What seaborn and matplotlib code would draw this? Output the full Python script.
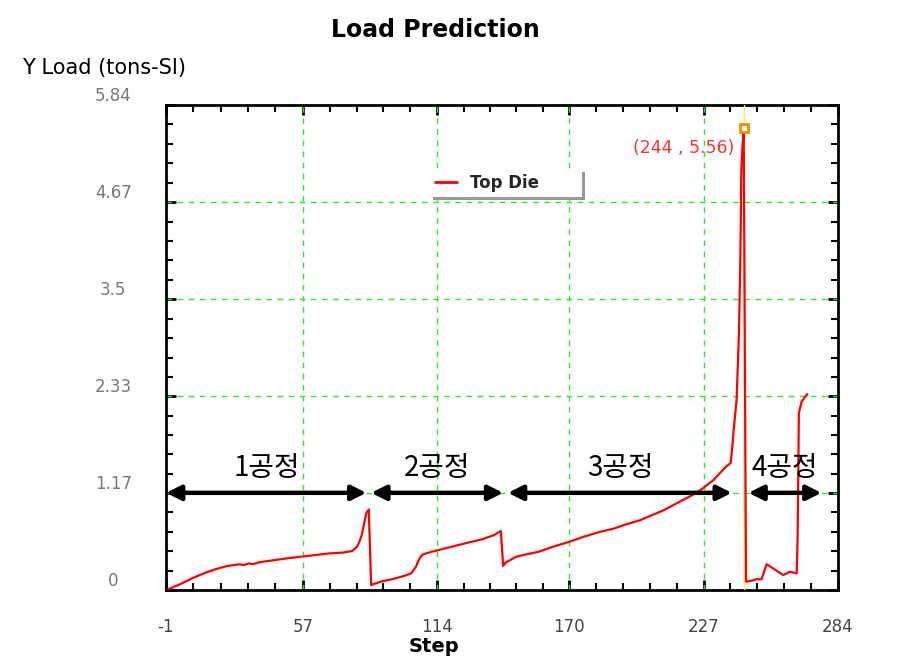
import numpy as np
import pandas as pd
import matplotlib
matplotlib.use("Agg")
import matplotlib.pyplot as plt
import seaborn as sns

# ---------------- data ----------------
step = [0, 5, 10, 15, 20, 25, 28, 30, 32, 34, 36, 38, 40, 45, 50, 56, 62, 68, 74, 78, 80, 81, 82, 83, 84, 85,
        86, 90, 95, 100, 103, 105, 106, 107, 108, 113, 120, 127, 133, 138, 141,
        142, 143, 147.5, 152, 157, 163, 170, 176, 183, 189, 194, 200, 205, 210, 214, 218, 222, 226, 231, 234,
        236.7, 238.5, 239.2, 240, 241, 242, 242.6, 243, 243.5, 244,
        245, 247, 249.5, 251.6, 253.7, 256.5, 260.8, 263.6, 266.5, 266.9, 267.4, 268.6, 271]
load = [0.01, 0.07, 0.14, 0.20, 0.25, 0.29, 0.30, 0.31, 0.30, 0.32, 0.31, 0.33, 0.34, 0.36, 0.38, 0.40, 0.42, 0.44, 0.45, 0.47, 0.52, 0.58, 0.66, 0.80, 0.93, 0.97,
        0.06, 0.10, 0.13, 0.17, 0.20, 0.28, 0.35, 0.40, 0.43, 0.47, 0.52, 0.57, 0.61, 0.66, 0.71,
        0.29, 0.33, 0.40, 0.43, 0.46, 0.52, 0.58, 0.64, 0.70, 0.74, 0.79, 0.84, 0.90, 0.96, 1.02, 1.08, 1.14, 1.21, 1.32, 1.41,
        1.49, 1.53, 1.73, 2.00, 2.29, 3.10, 4.03, 5.06, 5.33, 5.56,
        0.10, 0.11, 0.13, 0.13, 0.31, 0.26, 0.18, 0.22, 0.20, 0.68, 2.13, 2.27, 2.36]

x_ticks = [-1, 57, 114, 170, 227, 284]
y_ticks = [0, 1.17, 2.33, 3.5, 4.67, 5.84]
y_tick_labels = ["0", "1.17", "2.33", "3.5", "4.67", "5.84"]

process_labels = ["1공정", "2공정", "3공정", "4공정"]
process_start = [-1, 86, 144, 246]
process_end = [84, 142, 239, 277]
process_level = 1.17

peak_step = 244
peak_load = 5.56
series_name = "Top Die"

df = pd.DataFrame({"Step": step, "Load": load, "series": series_name})

# ---------------- figure ----------------
sns.set_theme(style="white")
plt.rcParams["font.family"] = ["DejaVu Sans", "Noto Sans CJK KR"]

fig = plt.figure(figsize=(9.01, 6.66), dpi=100)
ax = fig.add_axes([166 / 901, 1 - 590 / 666, 672 / 901, 485 / 666])

sns.lineplot(data=df, x="Step", y="Load", hue="series", palette=["#ff0000"],
             estimator=None, sort=False, linewidth=1.6, ax=ax, zorder=4)

ax.set_xlim(x_ticks[0], x_ticks[-1])
ax.set_ylim(y_ticks[0], y_ticks[-1])

# grid
for xv in x_ticks[1:-1]:
    ax.axvline(xv, color="#22ee22", lw=1.0, ls=(0, (4, 4)), zorder=1)
for yv in y_ticks[1:-1]:
    ax.axhline(yv, color="#22ee22", lw=1.0, ls=(0, (4, 4)), zorder=1)

# ticks
ax.set_xticks(x_ticks)
ax.set_xticklabels([str(v) for v in x_ticks], fontsize=12, color="#444444")
ax.set_yticks(y_ticks)
ax.set_yticklabels(y_tick_labels, fontsize=12, color="#777777")
xminor = np.concatenate([np.linspace(a, b, 6)[1:-1] for a, b in zip(x_ticks[:-1], x_ticks[1:])])
yminor = np.concatenate([np.linspace(a, b, 6)[1:-1] for a, b in zip(y_ticks[:-1], y_ticks[1:])])
ax.set_xticks(xminor, minor=True)
ax.set_yticks(yminor, minor=True)
ax.tick_params(which="both", direction="in", top=True, right=True, bottom=True, left=True, color="black")
ax.tick_params(which="major", length=7, width=2)
ax.tick_params(which="minor", length=5, width=1.5)
ax.tick_params(axis="x", which="major", pad=20)
ax.tick_params(axis="y", which="major", pad=38)
for lab in ax.get_yticklabels():
    lab.set_horizontalalignment("center")
    lab.set_verticalalignment("bottom")
for sp in ax.spines.values():
    sp.set_color("black")
    sp.set_linewidth(2)

ax.set_xlabel("")
ax.set_ylabel("")

# process arrows and labels
for lab, a, b in zip(process_labels, process_start, process_end):
    ax.annotate("", xy=(b, process_level), xytext=(a, process_level),
                arrowprops=dict(arrowstyle="<|-|>", color="black", lw=3.2,
                                mutation_scale=22, shrinkA=0, shrinkB=0), zorder=5)
    ax.annotate(lab, xy=((a + b) / 2, process_level), xytext=(0, 10), textcoords="offset pixels",
                ha="center", va="bottom", fontsize=20, color="black",
                family=["Noto Sans CJK KR", "DejaVu Sans"], zorder=6)

# peak marker
ax.axvline(peak_step, color="#ffee44", lw=1, zorder=3)
ax.plot([peak_step], [peak_load], marker="s", ms=6, mfc="white", mec="#ff8800", mew=2, zorder=7)
ax.annotate(f"({peak_step} , {peak_load:.2f})", xy=(peak_step, peak_load), xytext=(-9, -20),
            textcoords="offset pixels", ha="right", va="center", fontsize=12.5, color="#ff3030")

# legend
h, l = ax.get_legend_handles_labels()
leg = ax.legend(h, [series_name], loc="lower left",
                bbox_to_anchor=(0.393, 0.810, 0.226, 0.05), mode="expand", borderaxespad=0,
                frameon=True, fancybox=False, shadow={"color": "#999999", "alpha": 1},
                handlelength=1.3, handletextpad=0.8, borderpad=0.3,
                prop={"size": 12, "weight": "bold"})
leg.get_frame().set_edgecolor("white")
leg.get_frame().set_linewidth(0)
for line in leg.get_lines():
    line.set_linewidth(2)

# titles
fig.text(435 / 901, 1 - 30 / 666, "Load Prediction", ha="center", va="center",
         fontsize=17, fontweight="bold", color="black")
fig.text(22 / 901, 1 - 68 / 666, "Y Load (tons-SI)", ha="left", va="center",
         fontsize=15, color="black")
fig.text(434 / 901, 1 - 647 / 666, "Step", ha="center", va="center",
         fontsize=14, fontweight="bold", color="black")

fig.savefig("out.png", dpi=100, facecolor="white")
